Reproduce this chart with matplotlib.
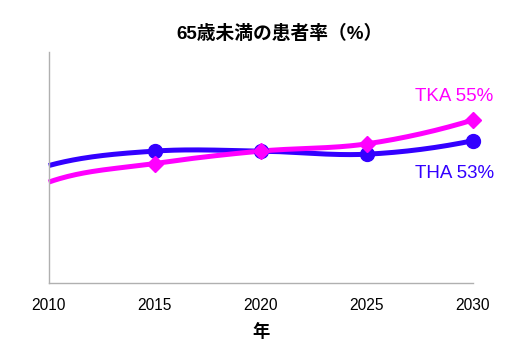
import numpy as np
import matplotlib.pyplot as plt

years = [2010, 2015, 2020, 2025, 2030]
tha = [50.6, 52.0, 52.0, 51.7, 53.0]
tka = [49.0, 50.8, 52.0, 52.7, 55.0]
marker_years = [2015, 2020, 2025, 2030]

plt.rcParams['font.family'] = ['Liberation Sans', 'Noto Sans CJK JP', 'DejaVu Sans']

BLUE = '#3300ff'
PINK = '#ff00ff'


def smooth(x, y, n=40):
    # catmull-rom curve through the points; steeper tangent at the first point
    x = np.asarray(x, float)
    y = np.asarray(y, float)
    px = np.concatenate([[2 * x[0] - x[1]], x, [2 * x[-1] - x[-2]]])
    py = np.concatenate([[y[1] - 4 * (y[1] - y[0])], y,
                         [y[-2] + 4 * (y[-1] - y[-2]) - (y[-1] - y[-3])]])
    t = np.linspace(0, 1, n)
    xs, ys = [], []
    for i in range(1, len(px) - 2):
        for p, out in ((px, xs), (py, ys)):
            p0, p1, p2, p3 = p[i - 1], p[i], p[i + 1], p[i + 2]
            out.extend(0.5 * (2 * p1 + (-p0 + p2) * t
                              + (2 * p0 - 5 * p1 + 4 * p2 - p3) * t ** 2
                              + (-p0 + 3 * p1 - 3 * p2 + p3) * t ** 3))
    return np.array(xs), np.array(ys)


fig = plt.figure(figsize=(5.24, 3.55), dpi=100)
ax = fig.add_axes([0.093, 0.203, 0.809, 0.651])

for vals, col, mk, ms in ((tha, BLUE, 'o', 10), (tka, PINK, 'D', 8.5)):
    sx, sy = smooth(years, vals)
    ax.plot(sx, sy, color=col, linewidth=3.6, solid_capstyle='butt', clip_on=False)
    ax.plot(marker_years, vals[1:], linestyle='none', marker=mk, markersize=ms,
            color=col, clip_on=False, zorder=3)

ax.annotate('TKA 55%', (years[-1], tka[-1]), xytext=(-19, 24), textcoords='offset pixels',
            ha='center', va='center', color=PINK, fontsize=13.5)
ax.annotate('THA 53%', (years[-1], tha[-1]), xytext=(-18, -33), textcoords='offset pixels',
            ha='center', va='center', color=BLUE, fontsize=13.5)

ax.set_xlim(2010, 2030)
ax.set_ylim(39.25, 61.6)
ax.set_xticks(years)
ax.set_yticks([])
ax.tick_params(axis='x', length=0, pad=11, labelsize=11.2)
for s in ('top', 'right'):
    ax.spines[s].set_visible(False)
for s in ('left', 'bottom'):
    ax.spines[s].set_color('#b0b0b0')
    ax.spines[s].set_linewidth(1)

ax.set_xlabel('年', fontsize=12.5, fontweight='bold', labelpad=7)
ax.set_title('65歳未満の患者率（%）', fontsize=13.5, fontweight='bold', x=0.545, pad=9)

fig.savefig('out.png', dpi=100)
